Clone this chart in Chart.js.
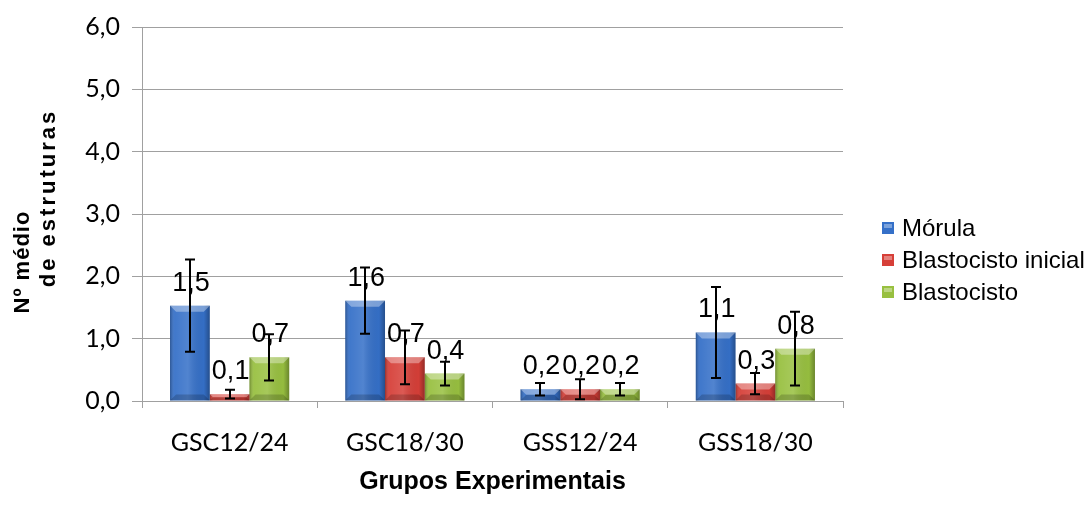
<!DOCTYPE html>
<html><head><meta charset="utf-8">
<script src="https://cdn.jsdelivr.net/npm/chart.js@4.4.1/dist/chart.umd.min.js"></script>
<style>html,body{margin:0;padding:0;background:#fff}#wrap{width:1092px;height:506px;position:relative}</style>
</head><body><div id="wrap"><canvas id="c"></canvas></div>
<script>
const categories = ['GSC12/24', 'GSC18/30', 'GSS12/24', 'GSS18/30'];
const seriesNames = ['Mórula', 'Blastocisto inicial', 'Blastocisto'];
const morula = [1.53, 1.61, 0.19, 1.10];
const blastoInicial = [0.11, 0.70, 0.19, 0.28];
const blasto = [0.70, 0.44, 0.19, 0.84];
const morulaErr = [0.74, 0.53, 0.10, 0.73];
const blastoInicialErr = [0.07, 0.43, 0.16, 0.17];
const blastoErr = [0.37, 0.19, 0.10, 0.59];
const yTicks = [0, 1, 2, 3, 4, 5, 6];
const yTitle = ['Nº médio', 'de estruturas'];
const xTitle = 'Grupos Experimentais';

const colors = ['#3570c8', '#d63f38', '#98c040'];
const errs = [morulaErr, blastoInicialErr, blastoErr];
const fmt = v => v.toFixed(1).replace('.', ',');

const barDeco = {
  id: 'barDeco',
  afterDatasetsDraw(chart) {
    const ctx = chart.ctx;
    const ys = chart.scales.y;
    chart.data.datasets.forEach((ds, di) => {
      const meta = chart.getDatasetMeta(di);
      meta.data.forEach((bar, i) => {
        const L = bar.x - bar.width / 2, R = bar.x + bar.width / 2;
        const T = bar.y, B = bar.base, h = B - T;
        ctx.save();
        const g = ctx.createLinearGradient(L, 0, R, 0);
        g.addColorStop(0, 'rgba(0,0,0,0.28)');
        g.addColorStop(0.12, 'rgba(255,255,255,0.06)');
        g.addColorStop(0.45, 'rgba(255,255,255,0.14)');
        g.addColorStop(0.85, 'rgba(0,0,0,0.02)');
        g.addColorStop(1, 'rgba(0,0,0,0.30)');
        ctx.fillStyle = g;
        ctx.fillRect(L, T, R - L, h);
        const b = Math.min(6, h / 2);
        ctx.beginPath();
        ctx.moveTo(L, T); ctx.lineTo(R, T); ctx.lineTo(R - b, T + b); ctx.lineTo(L + b, T + b); ctx.closePath();
        ctx.fillStyle = 'rgba(255,255,255,0.35)';
        ctx.fill();
        ctx.beginPath();
        ctx.moveTo(L, B); ctx.lineTo(R, B); ctx.lineTo(R - b, B - b); ctx.lineTo(L + b, B - b); ctx.closePath();
        ctx.fillStyle = 'rgba(0,0,0,0.18)';
        ctx.fill();
        ctx.restore();
      });
    });
    // data labels
    ctx.save();
    ctx.font = '27px "Liberation Sans", Arial, sans-serif';
    ctx.fillStyle = '#000';
    ctx.textAlign = 'center';
    ctx.textBaseline = 'alphabetic';
    chart.data.datasets.forEach((ds, di) => {
      const meta = chart.getDatasetMeta(di);
      meta.data.forEach((bar, i) => {
        ctx.fillText(fmt(ds.data[i]), bar.x + 1, bar.y - 15);
      });
    });
    ctx.restore();
    // error bars
    ctx.save();
    ctx.strokeStyle = '#000';
    ctx.lineWidth = 2;
    chart.data.datasets.forEach((ds, di) => {
      const meta = chart.getDatasetMeta(di);
      meta.data.forEach((bar, i) => {
        const v = ds.data[i], e = errs[di][i];
        const yt = ys.getPixelForValue(v + e), yb = ys.getPixelForValue(Math.max(0, v - e));
        const x = Math.round(bar.x);
        ctx.beginPath();
        ctx.moveTo(x, yt); ctx.lineTo(x, yb);
        ctx.moveTo(x - 5, yt); ctx.lineTo(x + 5, yt);
        ctx.moveTo(x - 5, yb); ctx.lineTo(x + 5, yb);
        ctx.stroke();
      });
    });
    ctx.restore();
  },
  afterDraw(chart) {
    const ctx = chart.ctx;
    // y axis title (rotated, two lines)
    ctx.save();
    ctx.fillStyle = '#000';
    ctx.font = 'bold 22px "Liberation Sans", Arial, sans-serif';
    ctx.textAlign = 'center';
    ctx.textBaseline = 'middle';
    const pos = [[23, 262, '1px'], [49, 198, '3px']];
    yTitle.forEach((t, k) => {
      ctx.save();
      ctx.translate(pos[k][0], pos[k][1]);
      ctx.rotate(-Math.PI / 2);
      ctx.letterSpacing = pos[k][2];
      ctx.fillText(t, 0, 0);
      ctx.restore();
    });
    ctx.restore();
    // legend
    ctx.save();
    ctx.font = '24px "Liberation Sans", Arial, sans-serif';
    ctx.textBaseline = 'middle';
    ctx.textAlign = 'left';
    const ly = [228, 260, 292];
    seriesNames.forEach((n, k) => {
      ctx.fillStyle = colors[k];
      ctx.fillRect(882, ly[k] - 6, 12, 12);
      ctx.fillStyle = 'rgba(255,255,255,0.35)';
      ctx.fillRect(884, ly[k] - 4, 8, 4);
      ctx.fillStyle = '#000';
      ctx.fillText(n, 902, ly[k] + 1);
    });
    ctx.restore();
  }
};

new Chart(document.getElementById('c'), {
  type: 'bar',
  data: {
    labels: categories,
    datasets: [
      { label: seriesNames[0], data: morula, backgroundColor: colors[0] },
      { label: seriesNames[1], data: blastoInicial, backgroundColor: colors[1] },
      { label: seriesNames[2], data: blasto, backgroundColor: colors[2] }
    ]
  },
  plugins: [barDeco],
  options: {
    responsive: true,
    maintainAspectRatio: false,
    animation: false,
    layout: { padding: { top: 27, right: 249, left: 80, bottom: 0 } },
    datasets: { bar: { categoryPercentage: 0.68, barPercentage: 1.0 } },
    plugins: { legend: { display: false }, tooltip: { enabled: false } },
    scales: {
      x: {
        grid: { offset: true, drawOnChartArea: false, color: '#a0a0a0', tickLength: 7 },
        border: { color: '#a0a0a0' },
        ticks: { color: '#000', font: { family: 'Lato', size: 25 }, padding: 20, maxRotation: 0 },
        title: { display: true, text: xTitle, color: '#000', font: { family: '"Liberation Sans", Arial', size: 25, weight: 'bold' }, padding: { top: 0, bottom: 9 } },
        afterFit(s) { s.height = 105; }
      },
      y: {
        min: 0, max: 6,
        afterBuildTicks(s) { s.ticks = yTicks.map(v => ({ value: v })); },
        grid: { color: '#a0a0a0', tickLength: 10 },
        border: { color: '#a0a0a0' },
        ticks: { color: '#000', font: { family: 'Lato', size: 25 }, padding: 12, callback: v => fmt(v) },
        afterFit(s) { s.width = 62; }
      }
    }
  }
});
</script>
</body></html>
